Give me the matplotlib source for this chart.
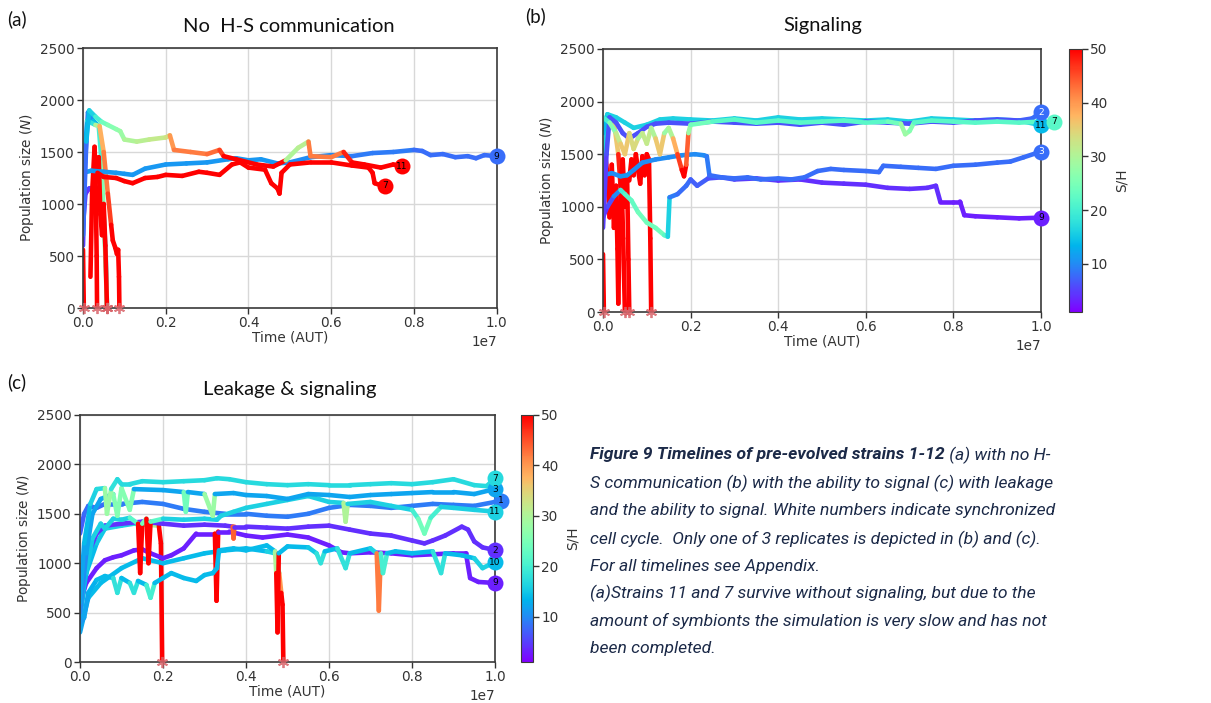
import numpy as np
import matplotlib
matplotlib.use("Agg")
import matplotlib.pyplot as plt
from matplotlib.collections import LineCollection
from matplotlib.colors import Normalize
from matplotlib.cm import ScalarMappable

# each point: (time in 1e7 AUT, population size N, S/H)
# ---- (a) No H-S communication ----
A_9 = [(0.0, 1300, 11), (0.02, 1320, 11), (0.05, 1310, 11), (0.08, 1300, 11), (0.1, 1290, 11),
       (0.12, 1280, 11), (0.15, 1340, 11), (0.2, 1380, 11), (0.25, 1390, 11), (0.3, 1400, 11),
       (0.35, 1430, 11), (0.37, 1440, 11), (0.4, 1420, 11), (0.43, 1430, 11), (0.47, 1390, 10),
       (0.5, 1400, 10), (0.55, 1450, 10), (0.6, 1470, 10), (0.65, 1460, 9), (0.7, 1490, 9),
       (0.75, 1500, 9), (0.8, 1520, 8), (0.82, 1510, 8), (0.84, 1470, 8), (0.87, 1480, 8),
       (0.9, 1450, 8), (0.93, 1460, 8), (0.95, 1440, 8), (0.97, 1470, 8), (1.0, 1460, 8)]
A_11 = [(0.0, 700, 6), (0.008, 1600, 8), (0.015, 1900, 14), (0.03, 1840, 16), (0.045, 1790, 20),
        (0.06, 1760, 24), (0.08, 1720, 26), (0.09, 1700, 27), (0.1, 1620, 28), (0.13, 1600, 30),
        (0.16, 1620, 31), (0.2, 1640, 32), (0.21, 1660, 33), (0.22, 1520, 40), (0.26, 1500, 42),
        (0.3, 1480, 42), (0.33, 1520, 43), (0.34, 1460, 46), (0.37, 1430, 50), (0.42, 1380, 50),
        (0.46, 1360, 50), (0.49, 1420, 30), (0.52, 1540, 30), (0.545, 1600, 31), (0.55, 1460, 42),
        (0.6, 1450, 42), (0.63, 1500, 42), (0.65, 1400, 48), (0.68, 1380, 50), (0.72, 1350, 50),
        (0.75, 1380, 50), (0.77, 1365, 50)]
A_7 = [(0.035, 1300, 50), (0.05, 1260, 50), (0.08, 1250, 50), (0.1, 1220, 50), (0.12, 1200, 50),
       (0.15, 1250, 50), (0.18, 1260, 50), (0.2, 1280, 50), (0.24, 1270, 50), (0.28, 1310, 50),
       (0.3, 1300, 50), (0.33, 1280, 50), (0.36, 1380, 50), (0.38, 1400, 50), (0.4, 1350, 50),
       (0.44, 1330, 50), (0.455, 1200, 50), (0.47, 1150, 50), (0.475, 1100, 50), (0.48, 1300, 50),
       (0.5, 1380, 50), (0.55, 1400, 50), (0.6, 1400, 50), (0.65, 1370, 50), (0.69, 1350, 50),
       (0.7, 1300, 50), (0.705, 1200, 50), (0.72, 1180, 50), (0.73, 1175, 50)]
A_DEAD_1 = [(0.0, 560, 50), (0.002, 0, 50)]
A_DEAD_2 = [(0.0, 800, 3), (0.006, 1100, 4), (0.015, 1150, 4), (0.03, 1160, 5), (0.045, 1140, 6),
            (0.05, 900, 10), (0.055, 500, 14), (0.058, 0, 16)]
A_DEAD_3 = [(0.0, 600, 4), (0.005, 1400, 5), (0.012, 1880, 8), (0.025, 1800, 10), (0.038, 1750, 14),
            (0.045, 1400, 20), (0.05, 900, 26), (0.055, 400, 28), (0.058, 0, 30)]
A_DEAD_4 = [(0.018, 300, 50), (0.022, 1100, 50), (0.028, 1550, 50), (0.031, 1100, 50),
            (0.033, 500, 50), (0.034, 0, 50)]
A_DEAD_5 = [(0.03, 1200, 50), (0.038, 1450, 50), (0.042, 900, 50), (0.046, 700, 50),
            (0.05, 1000, 50), (0.054, 600, 50), (0.058, 0, 50)]
A_DEAD_6 = [(0.0, 1200, 8), (0.01, 1800, 12), (0.03, 1760, 18), (0.04, 1750, 30), (0.05, 1500, 38),
            (0.06, 1100, 42), (0.068, 800, 46), (0.072, 650, 50), (0.078, 580, 50), (0.082, 520, 50),
            (0.085, 560, 50), (0.087, 300, 50), (0.088, 0, 50)]

# ---- (b) Signaling ----
B_2 = [(0.0, 800, 4), (0.008, 1500, 5), (0.015, 1850, 6), (0.03, 1800, 6), (0.045, 1700, 6),
       (0.06, 1650, 6), (0.08, 1700, 6), (0.1, 1760, 6), (0.12, 1790, 6), (0.15, 1800, 6),
       (0.2, 1790, 6), (0.25, 1810, 6), (0.3, 1800, 6), (0.35, 1790, 6), (0.4, 1800, 6),
       (0.45, 1780, 6), (0.5, 1800, 6), (0.55, 1780, 6), (0.6, 1810, 6), (0.65, 1800, 6),
       (0.7, 1790, 6), (0.75, 1810, 6), (0.8, 1800, 6), (0.85, 1820, 6), (0.9, 1830, 6),
       (0.95, 1820, 6), (0.98, 1840, 7), (1.0, 1900, 8)]
B_11 = [(0.0, 1700, 10), (0.01, 1880, 14), (0.03, 1850, 16), (0.05, 1800, 16), (0.07, 1750, 16),
        (0.1, 1780, 16), (0.13, 1830, 16), (0.16, 1840, 16), (0.2, 1830, 16), (0.25, 1820, 16),
        (0.3, 1840, 16), (0.35, 1820, 16), (0.4, 1850, 16), (0.45, 1830, 16), (0.5, 1840, 16),
        (0.55, 1830, 16), (0.6, 1820, 16), (0.65, 1830, 16), (0.7, 1810, 16), (0.75, 1840, 16),
        (0.8, 1830, 16), (0.85, 1820, 16), (0.9, 1830, 16), (0.95, 1820, 16), (1.0, 1775, 14)]
B_7 = [(0.0, 1850, 18), (0.015, 1800, 20), (0.03, 1700, 26), (0.04, 1600, 32), (0.05, 1500, 36),
       (0.06, 1700, 28), (0.07, 1550, 34), (0.08, 1650, 30), (0.09, 1700, 28), (0.1, 1600, 32),
       (0.11, 1750, 26), (0.12, 1650, 30), (0.13, 1500, 36), (0.14, 1700, 28), (0.15, 1750, 26),
       (0.16, 1650, 30), (0.17, 1500, 38), (0.18, 1350, 46), (0.185, 1290, 50), (0.19, 1400, 44),
       (0.195, 1700, 28), (0.2, 1780, 24), (0.25, 1810, 22), (0.3, 1830, 22), (0.35, 1800, 22),
       (0.4, 1820, 22), (0.45, 1800, 22), (0.5, 1810, 22), (0.55, 1820, 22), (0.6, 1800, 22),
       (0.65, 1810, 22), (0.68, 1790, 24), (0.69, 1690, 28), (0.7, 1720, 26), (0.71, 1800, 22),
       (0.75, 1820, 22), (0.8, 1810, 22), (0.85, 1800, 22), (0.9, 1810, 22), (0.95, 1800, 22),
       (1.0, 1810, 22), (1.03, 1810, 22)]
B_3 = [(0.0, 1300, 10), (0.02, 1320, 10), (0.04, 1290, 10), (0.055, 1300, 11), (0.07, 1350, 10),
       (0.09, 1420, 10), (0.12, 1450, 10), (0.15, 1470, 10), (0.18, 1490, 10), (0.21, 1500, 10),
       (0.23, 1490, 10), (0.237, 1480, 9), (0.243, 1300, 8), (0.27, 1280, 8), (0.3, 1270, 8),
       (0.33, 1280, 8), (0.36, 1260, 8), (0.4, 1270, 8), (0.43, 1260, 8), (0.46, 1280, 8),
       (0.49, 1340, 8), (0.52, 1360, 8), (0.55, 1350, 8), (0.6, 1340, 8), (0.63, 1330, 8),
       (0.64, 1390, 8), (0.68, 1380, 8), (0.72, 1370, 8), (0.76, 1360, 8), (0.8, 1390, 8),
       (0.85, 1400, 8), (0.9, 1420, 8), (0.93, 1430, 8), (0.96, 1470, 8), (1.0, 1525, 8)]
B_9 = [(0.0, 900, 3), (0.01, 1000, 4), (0.025, 1100, 6), (0.04, 1160, 10), (0.05, 1120, 20),
       (0.065, 1060, 22), (0.08, 950, 23), (0.1, 850, 24), (0.12, 800, 24), (0.14, 730, 22),
       (0.148, 716, 16), (0.152, 1090, 9), (0.17, 1120, 8), (0.19, 1200, 8), (0.2, 1260, 7),
       (0.215, 1200, 7), (0.24, 1270, 6), (0.27, 1280, 6), (0.3, 1260, 5), (0.35, 1270, 5),
       (0.4, 1250, 4), (0.45, 1260, 4), (0.5, 1230, 4), (0.55, 1220, 4), (0.6, 1210, 4),
       (0.65, 1180, 4), (0.7, 1170, 4), (0.74, 1180, 4), (0.76, 1200, 4), (0.77, 1050, 3),
       (0.8, 1050, 3), (0.815, 1050, 3), (0.825, 920, 3), (0.85, 910, 3), (0.9, 900, 3),
       (0.95, 890, 3), (1.0, 897, 3)]
B_DEAD_1 = [(0.0, 550, 50), (0.002, 0, 50)]
B_DEAD_2 = [(0.005, 1500, 40), (0.01, 1300, 50), (0.015, 900, 50), (0.02, 1400, 50), (0.025, 800, 50),
            (0.03, 1200, 50), (0.033, 600, 50), (0.035, 80, 50), (0.038, 900, 50), (0.042, 1300, 50),
            (0.046, 700, 50), (0.05, 0, 50)]
B_DEAD_3 = [(0.0, 1200, 12), (0.01, 1850, 16), (0.025, 1800, 20), (0.035, 1500, 36), (0.04, 1200, 48),
            (0.045, 1450, 50), (0.05, 1000, 50), (0.055, 1300, 50), (0.058, 500, 50), (0.06, 0, 50)]
B_DEAD_4 = [(0.06, 1250, 50), (0.065, 1450, 50), (0.07, 1300, 50), (0.075, 1500, 50), (0.08, 1350, 50),
            (0.085, 1220, 50), (0.09, 1480, 50), (0.095, 1300, 50), (0.1, 1500, 50), (0.105, 1450, 50),
            (0.108, 700, 50), (0.11, 0, 50)]

# ---- (c) Leakage & signaling ----
C_7 = [(0.0, 600, 10), (0.01, 1200, 12), (0.025, 1600, 14), (0.04, 1750, 16), (0.06, 1760, 17),
       (0.065, 1500, 28), (0.075, 1750, 18), (0.09, 1850, 17), (0.1, 1800, 17), (0.12, 1800, 17),
       (0.15, 1830, 17), (0.2, 1820, 17), (0.25, 1830, 17), (0.3, 1840, 17), (0.33, 1860, 17),
       (0.36, 1850, 17), (0.4, 1820, 17), (0.45, 1800, 17), (0.5, 1790, 17), (0.55, 1800, 17),
       (0.6, 1790, 17), (0.65, 1790, 17), (0.7, 1800, 17), (0.75, 1810, 17), (0.8, 1800, 17),
       (0.85, 1820, 17), (0.9, 1850, 17), (0.95, 1790, 17), (0.98, 1780, 17), (1.0, 1862, 17)]
C_3 = [(0.0, 500, 8), (0.015, 1100, 10), (0.03, 1500, 12), (0.05, 1650, 12), (0.08, 1700, 12),
       (0.09, 1480, 26), (0.1, 1760, 12), (0.12, 1540, 26), (0.13, 1750, 12), (0.2, 1740, 12),
       (0.25, 1720, 12), (0.255, 1520, 24), (0.26, 1720, 12), (0.3, 1700, 12), (0.32, 1480, 28),
       (0.325, 1700, 12), (0.37, 1710, 12), (0.4, 1690, 12), (0.45, 1680, 12), (0.5, 1650, 12),
       (0.55, 1700, 12), (0.6, 1690, 12), (0.65, 1670, 12), (0.7, 1690, 12), (0.75, 1700, 12),
       (0.8, 1710, 12), (0.85, 1720, 12), (0.9, 1720, 12), (0.95, 1700, 12), (1.0, 1751, 12)]
C_1 = [(0.0, 1300, 6), (0.01, 1500, 7), (0.02, 1580, 8), (0.04, 1560, 8), (0.06, 1600, 8),
       (0.1, 1600, 9), (0.15, 1620, 9), (0.2, 1600, 9), (0.25, 1550, 9), (0.3, 1520, 9),
       (0.35, 1500, 9), (0.4, 1500, 9), (0.45, 1480, 9), (0.5, 1470, 9), (0.55, 1500, 9),
       (0.6, 1560, 9), (0.65, 1590, 9), (0.7, 1580, 9), (0.75, 1560, 9), (0.8, 1580, 9),
       (0.85, 1600, 9), (0.9, 1590, 9), (0.95, 1580, 9), (1.0, 1620, 9), (1.015, 1633, 9)]
C_11 = [(0.0, 500, 12), (0.015, 900, 14), (0.03, 1250, 15), (0.05, 1400, 16), (0.06, 1350, 16),
        (0.08, 1450, 16), (0.1, 1440, 16), (0.12, 1460, 16), (0.14, 1400, 22), (0.145, 900, 50),
        (0.15, 1400, 24), (0.16, 1450, 16), (0.165, 1000, 50), (0.17, 1420, 22), (0.2, 1450, 16),
        (0.25, 1440, 16), (0.3, 1450, 16), (0.33, 1440, 16), (0.34, 1480, 16), (0.37, 1520, 16),
        (0.4, 1560, 16), (0.45, 1600, 16), (0.5, 1640, 16), (0.55, 1680, 16), (0.6, 1620, 16),
        (0.635, 1610, 16), (0.64, 1420, 30), (0.645, 1600, 16), (0.7, 1620, 16), (0.75, 1580, 16),
        (0.8, 1540, 16), (0.815, 1450, 20), (0.83, 1300, 24), (0.845, 1460, 20), (0.87, 1570, 16),
        (0.9, 1560, 16), (0.95, 1540, 16), (1.0, 1522, 16)]
C_2 = [(0.0, 800, 3), (0.02, 1100, 3), (0.04, 1300, 4), (0.06, 1380, 4), (0.1, 1400, 4),
       (0.15, 1420, 4), (0.2, 1400, 4), (0.25, 1380, 4), (0.3, 1390, 4), (0.35, 1380, 4),
       (0.368, 1370, 4), (0.37, 1250, 44), (0.372, 1370, 4), (0.4, 1370, 4), (0.45, 1360, 4),
       (0.5, 1350, 4), (0.55, 1370, 4), (0.6, 1380, 4), (0.65, 1340, 4), (0.7, 1300, 4),
       (0.75, 1280, 4), (0.8, 1230, 4), (0.83, 1200, 4), (0.85, 1230, 4), (0.88, 1280, 4),
       (0.92, 1370, 4), (0.935, 1340, 4), (0.95, 1220, 4), (0.97, 1160, 4), (1.0, 1133, 4)]
C_9 = [(0.0, 600, 3), (0.015, 800, 3), (0.04, 950, 3), (0.06, 1030, 3), (0.08, 1060, 3),
       (0.1, 1080, 3), (0.13, 1130, 3), (0.15, 1140, 3), (0.17, 1100, 3), (0.2, 1050, 3),
       (0.22, 1080, 3), (0.25, 1150, 3), (0.28, 1300, 3), (0.325, 1300, 3), (0.329, 620, 50),
       (0.333, 1320, 3), (0.36, 1320, 3), (0.4, 1280, 3), (0.44, 1260, 3), (0.5, 1290, 3),
       (0.55, 1260, 3), (0.6, 1180, 3), (0.63, 1110, 3), (0.65, 1100, 3), (0.7, 1110, 3),
       (0.75, 1100, 3), (0.8, 1080, 3), (0.85, 1090, 3), (0.9, 1100, 3), (0.93, 1100, 3),
       (0.94, 850, 3), (0.96, 810, 3), (1.0, 800, 3)]
C_10 = [(0.0, 400, 10), (0.01, 450, 11), (0.02, 700, 12), (0.04, 830, 13), (0.06, 870, 14),
        (0.08, 850, 14), (0.09, 700, 18), (0.1, 850, 14), (0.12, 800, 14), (0.13, 700, 18),
        (0.14, 820, 14), (0.16, 780, 14), (0.17, 650, 20), (0.18, 800, 14), (0.2, 850, 14),
        (0.22, 900, 14), (0.25, 850, 14), (0.28, 820, 14), (0.3, 880, 14), (0.32, 900, 14),
        (0.33, 950, 14), (0.335, 1130, 14), (0.37, 1150, 14), (0.4, 1130, 14), (0.45, 1180, 14),
        (0.47, 1120, 14), (0.473, 900, 30), (0.476, 300, 50), (0.479, 1100, 14), (0.5, 1170, 14),
        (0.55, 1160, 14), (0.57, 1100, 15), (0.58, 1000, 18), (0.59, 1120, 14), (0.62, 1150, 14),
        (0.64, 950, 18), (0.65, 1100, 14), (0.7, 1150, 14), (0.715, 1100, 16), (0.72, 520, 42),
        (0.725, 1100, 16), (0.73, 900, 20), (0.74, 1100, 14), (0.76, 1120, 14), (0.8, 1100, 14),
        (0.85, 1120, 14), (0.87, 900, 18), (0.88, 1100, 14), (0.92, 1080, 14), (0.95, 1050, 14),
        (0.97, 950, 16), (1.0, 1012, 14)]
C_DEAD_1 = [(0.0, 450, 10), (0.015, 900, 12), (0.04, 1200, 14), (0.06, 1350, 15), (0.1, 1380, 16),
            (0.13, 1400, 16), (0.16, 1390, 18), (0.19, 1380, 30), (0.195, 1200, 50), (0.198, 0, 50)]
C_DEAD_2 = [(0.0, 300, 10), (0.02, 650, 12), (0.05, 800, 14), (0.1, 950, 14), (0.15, 1050, 14),
            (0.2, 1000, 14), (0.25, 1050, 14), (0.3, 1100, 14), (0.35, 1130, 14), (0.4, 1150, 14),
            (0.45, 1120, 14), (0.47, 1100, 16), (0.48, 900, 26), (0.485, 700, 40), (0.488, 580, 50),
            (0.49, 0, 50)]

A_LIVE = {9: A_9, 11: A_11, 7: A_7}
A_DEAD = [A_DEAD_1, A_DEAD_2, A_DEAD_3, A_DEAD_4, A_DEAD_5, A_DEAD_6]
B_LIVE = {9: B_9, 3: B_3, 11: B_11, 2: B_2, 7: B_7}
B_DEAD = [B_DEAD_1, B_DEAD_2, B_DEAD_3, B_DEAD_4]
C_LIVE = {9: C_9, 10: C_10, 2: C_2, 1: C_1, 11: C_11, 3: C_3, 7: C_7}
C_DEAD = [C_DEAD_1, C_DEAD_2]
B_SYNC = [2, 3]   # white numbers: synchronized cell cycle

cmap = plt.get_cmap("rainbow")
norm = Normalize(1, 50)
TXT = "#333333"
FS = 9.8


def draw_line(ax, pts):
    p = np.array(pts, dtype=float)
    xy = np.column_stack([p[:, 0] * 1e7, p[:, 1]])
    segs = np.stack([xy[:-1], xy[1:]], axis=1)
    sh = np.maximum(p[:-1, 2], p[1:, 2])
    lc = LineCollection(segs, colors=cmap(norm(sh)), linewidths=3.3,
                        capstyle="round", joinstyle="round", zorder=2)
    ax.add_collection(lc)
    return p


def draw_panel(ax, live, dead, sync=()):
    for pts in dead:
        draw_line(ax, pts)
    for sid, pts in live.items():
        p = draw_line(ax, pts)
        ax.plot(p[-1, 0] * 1e7, p[-1, 1], "o", ms=11.5, mew=0,
                color=cmap(norm(p[-1, 2])), clip_on=False, zorder=5)
        ax.text(p[-1, 0] * 1e7, p[-1, 1], str(sid), ha="center", va="center",
                fontsize=6.5, color="white" if sid in sync else "black", zorder=6, clip_on=False)
    for pts in dead:
        p = np.array(pts, dtype=float)
        ax.plot(p[-1, 0] * 1e7, p[-1, 1], marker=(6, 2, 0), ms=8, mew=1.3,
                color="#d9646a", alpha=0.85, clip_on=False, zorder=6)
    ax.set_xlim(0, 1e7)
    ax.set_ylim(0, 2500)
    ax.set_xticks(np.arange(0, 1.01e7, 2e6))
    ax.set_yticks(np.arange(0, 2501, 500))
    ax.grid(color="#d8d8d8", lw=1, zorder=0)
    ax.set_axisbelow(True)
    for s in ax.spines.values():
        s.set_color("#3a3a3a")
        s.set_linewidth(1.2)
    ax.tick_params(labelsize=FS, colors=TXT, length=4, width=1, pad=2)
    ax.xaxis.get_offset_text().set_fontsize(FS)
    ax.xaxis.get_offset_text().set_color(TXT)
    ax.set_xlabel("Time (AUT)", fontsize=FS, color=TXT, labelpad=0)
    ax.set_ylabel("Population size ($N$)", fontsize=FS, color=TXT, labelpad=3)


def add_cbar(fig, rect):
    cax = fig.add_axes(rect)
    cb = fig.colorbar(ScalarMappable(norm=norm, cmap=cmap), cax=cax)
    cb.set_ticks([10, 20, 30, 40, 50])
    cb.ax.tick_params(labelsize=FS, colors=TXT, length=4, width=1, pad=2)
    cb.outline.set_edgecolor("#3a3a3a")
    cb.set_label("S/H", fontsize=FS, color=TXT, labelpad=5)


W, H = 1211, 703
fig = plt.figure(figsize=(W / 100, H / 100), dpi=100)

ax_a = fig.add_axes([83 / W, 1 - 308 / H, 413.7 / W, 260 / H])
ax_b = fig.add_axes([603 / W, 1 - 312 / H, 438 / W, 263 / H])
ax_c = fig.add_axes([80 / W, 1 - 662 / H, 415 / W, 247 / H])
draw_panel(ax_a, A_LIVE, A_DEAD)
draw_panel(ax_b, B_LIVE, B_DEAD, B_SYNC)
draw_panel(ax_c, C_LIVE, C_DEAD)
add_cbar(fig, [1069 / W, 1 - 312 / H, 13 / W, 263 / H])
add_cbar(fig, [521 / W, 1 - 662 / H, 12 / W, 247 / H])

title_font = dict(family="Lato", fontsize=14.5, color="#111111", ha="center", va="center")
fig.text(289 / W, 1 - 26 / H, "No  H-S communication", **title_font)
fig.text(823 / W, 1 - 26 / H, "Signaling", **title_font)
fig.text(290 / W, 1 - 389 / H, "Leakage & signaling", **title_font)
lab_font = dict(family="Lato", fontsize=13.5, color="#111111", ha="left", va="center")
fig.text(7 / W, 1 - 19 / H, "(a)", **lab_font)
fig.text(525 / W, 1 - 16 / H, "(b)", **lab_font)
fig.text(7 / W, 1 - 382 / H, "(c)", **lab_font)

# caption
cap = dict(family="Roboto", style="italic", fontsize=12.6, color="#1c2a48", va="center", ha="left")
cap_lines = [
    "S communication (b) with the ability to signal (c) with leakage",
    "and the ability to signal. White numbers indicate synchronized",
    "cell cycle.  Only one of 3 replicates is depicted in (b) and (c).",
    "For all timelines see Appendix.",
    "(a)Strains 11 and 7 survive without signaling, but due to the",
    "amount of symbionts the simulation is very slow and has not",
    "been completed.",
]
cap_y = [483.3, 511, 539, 566.7, 593.3, 621, 648.3]
x0 = 590 / W
t1 = fig.text(x0, 1 - 455 / H, "Figure 9 Timelines of pre-evolved strains 1-12",
              fontweight="bold", **cap)
r = fig.canvas.get_renderer()
bb = t1.get_window_extent(renderer=r)
fig.text(bb.x1 / W, 1 - 455 / H, " (a) with no H-", **cap)
for line, y in zip(cap_lines, cap_y):
    fig.text(x0, 1 - y / H, line, **cap)

fig.savefig("out.png", dpi=100)
